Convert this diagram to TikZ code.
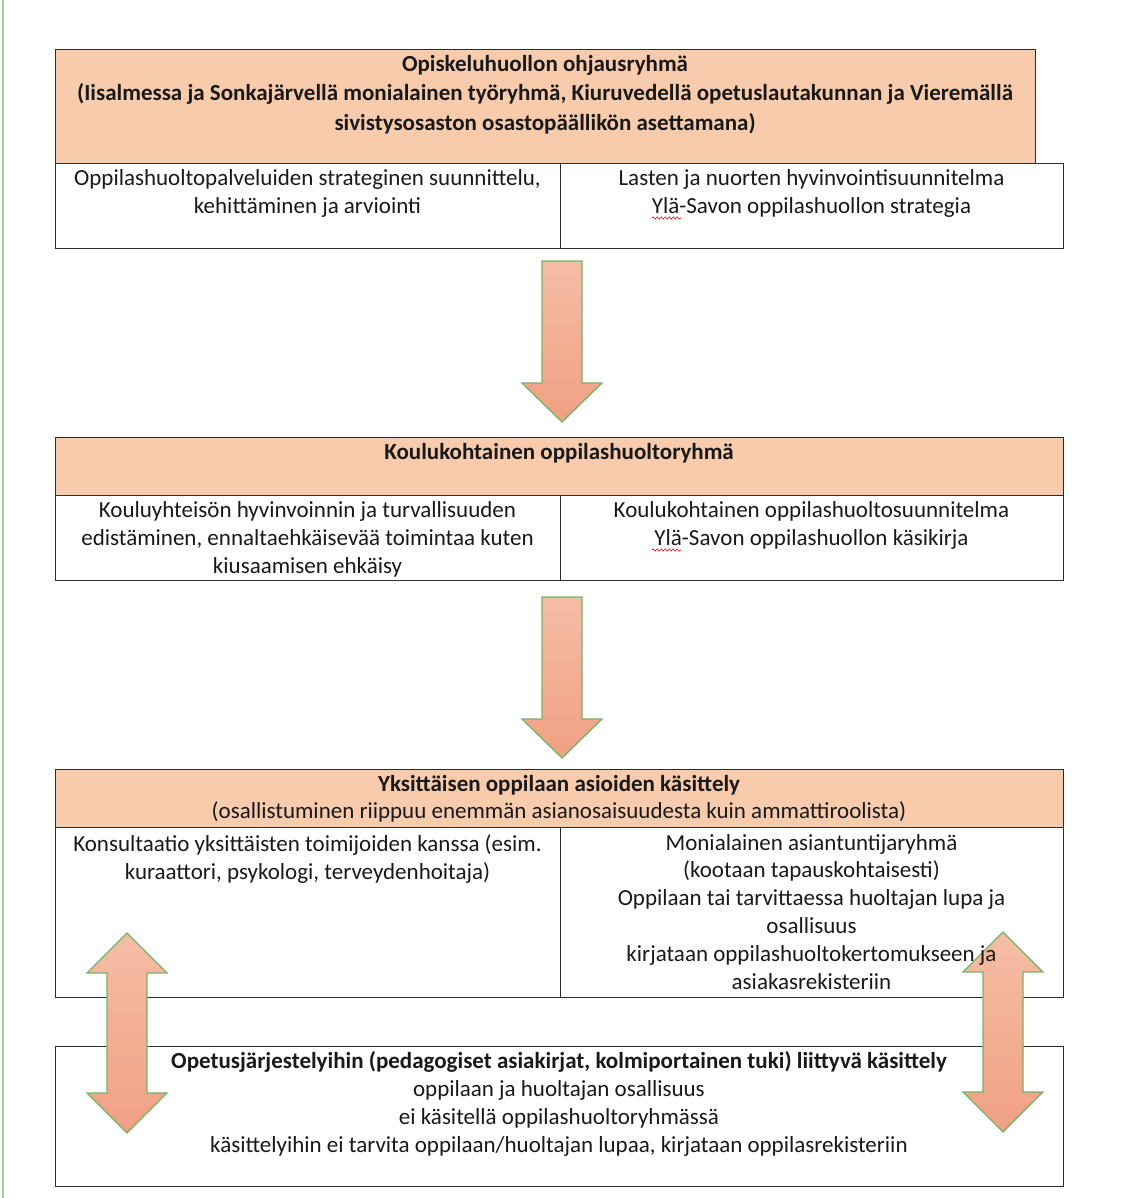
\documentclass[tikz,border=0pt]{standalone}
\usepackage{fontspec}
\setmainfont{Carlito}
\usepackage{xcolor}
\usetikzlibrary{decorations.pathmorphing}

\definecolor{oranssi}{HTML}{F8CBAD}
\definecolor{reuna}{HTML}{2B2B2B}
\definecolor{vihrea}{HTML}{72B567}
\definecolor{marginaali}{HTML}{A9D08E}
\definecolor{nuoliyla}{HTML}{F5BDA6}
\definecolor{nuoliala}{HTML}{F0A083}

\begin{document}
\begin{tikzpicture}[x=1pt,y=-1pt,
  laatikko/.style={draw=reuna, line width=1.3pt, anchor=north west, inner sep=0pt},
  otsikko/.style={laatikko, fill=oranssi},
  teksti/.style={font=\fontsize{23}{28}\selectfont, align=center, anchor=north, inner sep=0pt, text=black!90, execute at begin node=\rule[-8pt]{0pt}{20pt}},
  nuoli/.style={draw=vihrea, line width=1.3pt, top color=nuoliyla, bottom color=nuoliala, line join=miter},
  virheviiva/.style={red, line width=0.6pt, decorate, decoration={snake, amplitude=1.1pt, segment length=4pt}}
] %yksikkö = yksi kuvapiste

\useasboundingbox (0,0) rectangle (1127,1198);

%vihreä marginaaliviiva vasemmalla
\draw[marginaali, line width=2pt] (3,0) -- (3,1198);

%----------------------------------------------------
%Opiskeluhuollon ohjausryhmä
%----------------------------------------------------
\node[otsikko, minimum width=980pt, minimum height=114pt] (ohjaus) at (55,49) {};
\node[laatikko, minimum width=505pt, minimum height=85pt] (ohjausV) at (55,163) {};
\node[laatikko, minimum width=503pt, minimum height=85pt] (ohjausO) at (560,163) {};

\node[teksti, font=\fontsize{23}{29.5}\selectfont\bfseries] (ohjausT) at (545,55)
  {Opiskeluhuollon ohjausryhmä\\(Iisalmessa ja Sonkajärvellä monialainen työryhmä, Kiuruvedellä opetuslautakunnan ja Vieremällä\\sivistysosaston osastopäällikön asettamana)};
\node[teksti] (ohjausVT) at (307.5,169) {Oppilashuoltopalveluiden strateginen suunnittelu,\\kehittäminen ja arviointi};
\node[teksti] (ohjausOT) at (811.5,169) {Lasten ja nuorten hyvinvointisuunnitelma\\Ylä-Savon oppilashuollon strategia};
\draw[virheviiva] (652,218) -- (681,218); %oikolukuviiva sanan "Ylä" alla

%nuoli alas
\draw[nuoli] (542,261) -- (582,261) -- (582,383) -- (602,383) -- (562,422) -- (522,383) -- (542,383) -- cycle;

%----------------------------------------------------
%Koulukohtainen oppilashuoltoryhmä
%----------------------------------------------------
\node[otsikko, minimum width=1008pt, minimum height=58pt] (koulu) at (55,437) {};
\node[laatikko, minimum width=505pt, minimum height=85pt] (kouluV) at (55,495) {};
\node[laatikko, minimum width=503pt, minimum height=85pt] (kouluO) at (560,495) {};

\node[teksti, font=\fontsize{23}{28}\selectfont\bfseries] (kouluT) at (559,443) {Koulukohtainen oppilashuoltoryhmä};
\node[teksti] (kouluVT) at (307.5,501) {Kouluyhteisön hyvinvoinnin ja turvallisuuden\\edistäminen, ennaltaehkäisevää toimintaa kuten\\kiusaamisen ehkäisy};
\node[teksti] (kouluOT) at (811.5,501) {Koulukohtainen oppilashuoltosuunnitelma\\Ylä-Savon oppilashuollon käsikirja};
\draw[virheviiva] (652,550) -- (681,550); %oikolukuviiva sanan "Ylä" alla

%nuoli alas
\draw[nuoli] (542,597) -- (582,597) -- (582,719) -- (602,719) -- (562,758) -- (522,719) -- (542,719) -- cycle;

%----------------------------------------------------
%Yksittäisen oppilaan asioiden käsittely ja opetusjärjestelyt (laatikot)
%----------------------------------------------------
\node[otsikko, minimum width=1008pt, minimum height=58pt] (yksilo) at (55,769) {};
\node[laatikko, minimum width=505pt, minimum height=170pt] (yksiloV) at (55,827) {};
\node[laatikko, minimum width=503pt, minimum height=170pt] (yksiloO) at (560,827) {};
\node[laatikko, minimum width=1008pt, minimum height=140pt] (opetus) at (55,1046) {};

%kaksisuuntaiset nuolet laatikoiden välillä (reunojen päällä, tekstin alla)
\draw[nuoli] (127,933) -- (167,973) -- (147,973) -- (147,1093) -- (167,1093) -- (127,1133) -- (87,1093) -- (107,1093) -- (107,973) -- (87,973) -- cycle;
\draw[nuoli] (1003,932) -- (1043,972) -- (1023,972) -- (1023,1092) -- (1043,1092) -- (1003,1132) -- (963,1092) -- (983,1092) -- (983,972) -- (963,972) -- cycle;

%tekstit
\node[teksti, font=\fontsize{23}{27}\selectfont] (yksiloT) at (559,775) {\textbf{Yksittäisen oppilaan asioiden käsittely}\\(osallistuminen riippuu enemmän asianosaisuudesta kuin ammattiroolista)};
\node[teksti] (yksiloVT) at (307.5,834) {Konsultaatio yksittäisten toimijoiden kanssa (esim.\\kuraattori, psykologi, terveydenhoitaja)};
\node[teksti, font=\fontsize{23}{27.8}\selectfont] (yksiloOT) at (811.5,834) {Monialainen asiantuntijaryhmä\\(kootaan tapauskohtaisesti)\\Oppilaan tai tarvittaessa huoltajan lupa ja\\osallisuus\\kirjataan oppilashuoltokertomukseen ja\\asiakasrekisteriin};
\node[teksti] (opetusT) at (559,1051) {\textbf{Opetusjärjestelyihin (pedagogiset asiakirjat, kolmiportainen tuki) liittyvä käsittely}\\oppilaan ja huoltajan osallisuus\\ei käsitellä oppilashuoltoryhmässä\\käsittelyihin ei tarvita oppilaan/huoltajan lupaa, kirjataan oppilasrekisteriin};

\end{tikzpicture}
\end{document}
